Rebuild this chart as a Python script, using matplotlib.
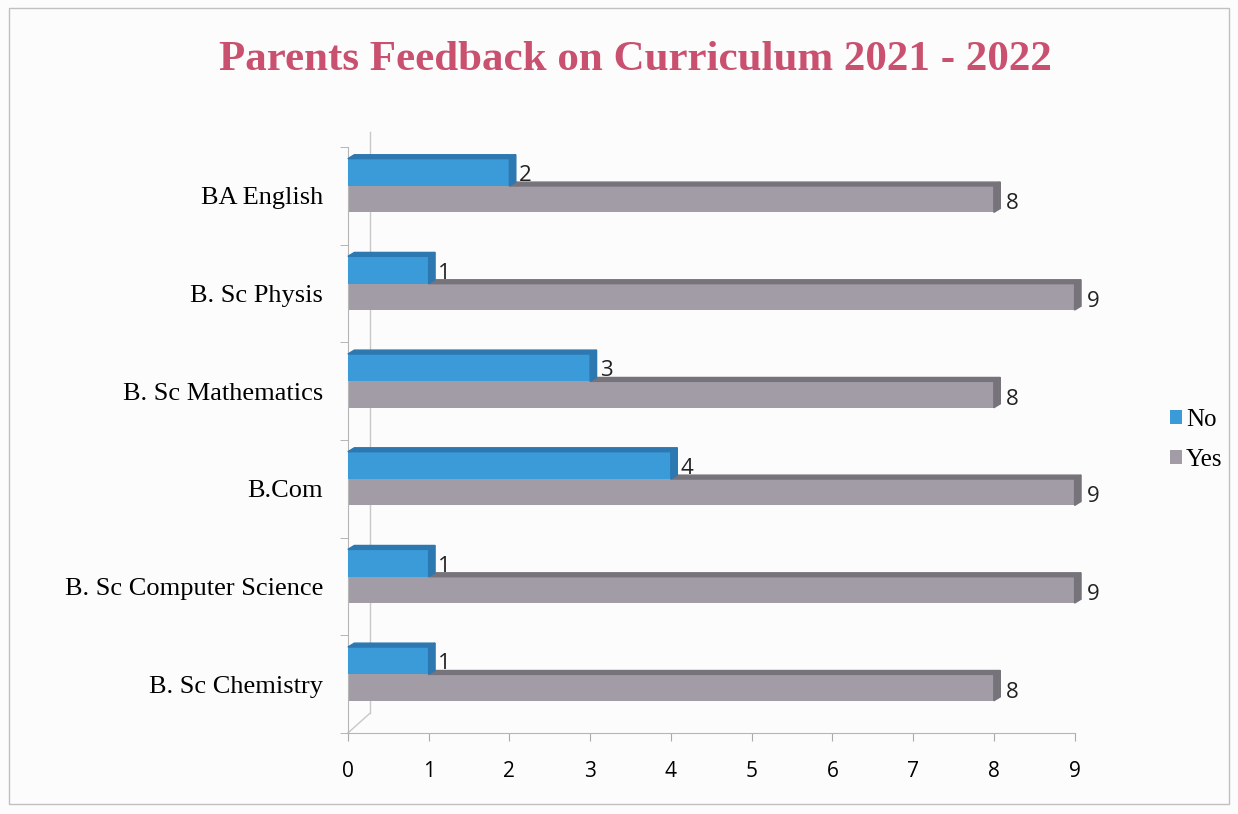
import matplotlib.pyplot as plt
from matplotlib.patches import Polygon, Rectangle
import numpy as np

# data, bottom to top
courses = ['B. Sc Chemistry', 'B. Sc Computer Science', 'B.Com',
           'B. Sc Mathematics', 'B. Sc Physis', 'BA English']
no_vals = [1, 1, 4, 3, 1, 2]
yes_vals = [8, 9, 9, 8, 9, 8]

blue = '#3b9ad8'
blue_top = '#2d78b0'
grey = '#a29ca6'
grey_top = '#77737b'

fig = plt.figure(figsize=(12.38, 8.14), dpi=100)
fig.patch.set_facecolor('#fcfcfd')
ax = fig.add_axes([0.281, 0.0995, 0.587, 0.72])
ax.set_facecolor('none')

y = np.arange(len(courses))
h_no = 0.28
h_yes = 0.27
off = 0.1

ax.barh(y + off, no_vals, height=h_no, align='edge', color=blue, zorder=3, label='No')
ax.barh(y + off, yes_vals, height=-h_yes, align='edge', color=grey, zorder=2, label='Yes')

# fake 3d top faces and right sides
dx, dy = 0.08, 0.04
for yi, n, v in zip(y, no_vals, yes_vals):
    top = yi + off + h_no
    faces = [
        ([(0, top), (dx, top + dy), (n + dx, top + dy), (n, top)], blue_top, 3),
        ([(n, yi + off), (n, top), (n + dx, top + dy), (n + dx, yi + off + dy)], blue_top, 3),
        ([(n, yi + off), (n + dx, yi + off + dy), (v + dx, yi + off + dy), (v, yi + off)], grey_top, 2),
        ([(v, yi + off - h_yes), (v, yi + off), (v + dx, yi + off + dy),
          (v + dx, yi + off - h_yes + dy)], grey_top, 2),
    ]
    for pts, c, z in faces:
        ax.add_patch(Polygon(pts, color=c, zorder=z, clip_on=False))
    ax.text(n + 0.12, yi + off + 0.0, str(n), fontsize=16, va='bottom', ha='left',
            family='Open Sans', color='#222222', zorder=4)
    ax.text(v + 0.15, yi + off - h_yes - 0.02, str(v), fontsize=16, va='bottom', ha='left',
            family='Open Sans', color='#222222', zorder=4)

ax.set_xlim(0, 9)
ax.set_ylim(-0.5, len(courses) - 0.5)
ax.set_xticks(range(10))
ax.set_xticklabels([str(i) for i in range(10)], family='Open Sans', fontsize=15)
ax.set_yticks(y)
ax.set_yticklabels(courses, family='Liberation Serif', fontsize=19)
ax.set_yticks(np.arange(-0.5, len(courses), 1), minor=True)
ax.tick_params(axis='y', which='major', length=0, pad=18)
ax.tick_params(axis='y', which='minor', length=6, color='#aaaaaa', direction='out')
ax.tick_params(axis='x', length=6, color='#aaaaaa', direction='out', pad=14)

for s in ['top', 'right']:
    ax.spines[s].set_visible(False)
for s in ['left', 'bottom']:
    ax.spines[s].set_color('#b5b5b5')
# back wall line
ax.plot([0.27, 0.27], [-0.3, 5.65], color='#c8c8c8', lw=1, clip_on=False, zorder=1)
ax.plot([0, 0.27], [-0.5, -0.3], color='#c8c8c8', lw=1, clip_on=False, zorder=1)

leg = ax.legend(loc='center left', bbox_to_anchor=(1.1, 0.5), frameon=False,
                prop={'family': 'Liberation Serif', 'size': 18},
                handlelength=0.5, handleheight=0.5, handletextpad=0.15, labelspacing=0.7)

fig.text(0.513, 0.926, 'Parents Feedback on Curriculum 2021 - 2022', ha='center', va='center',
         family='Liberation Serif', fontweight='bold', fontsize=31, color='#c9516f')

fig.add_artist(Rectangle((0.007, 0.012), 0.986, 0.978, transform=fig.transFigure,
                         fill=False, edgecolor='#c0c0c0', lw=1))

fig.savefig('out.png', dpi=100, facecolor=fig.get_facecolor())
